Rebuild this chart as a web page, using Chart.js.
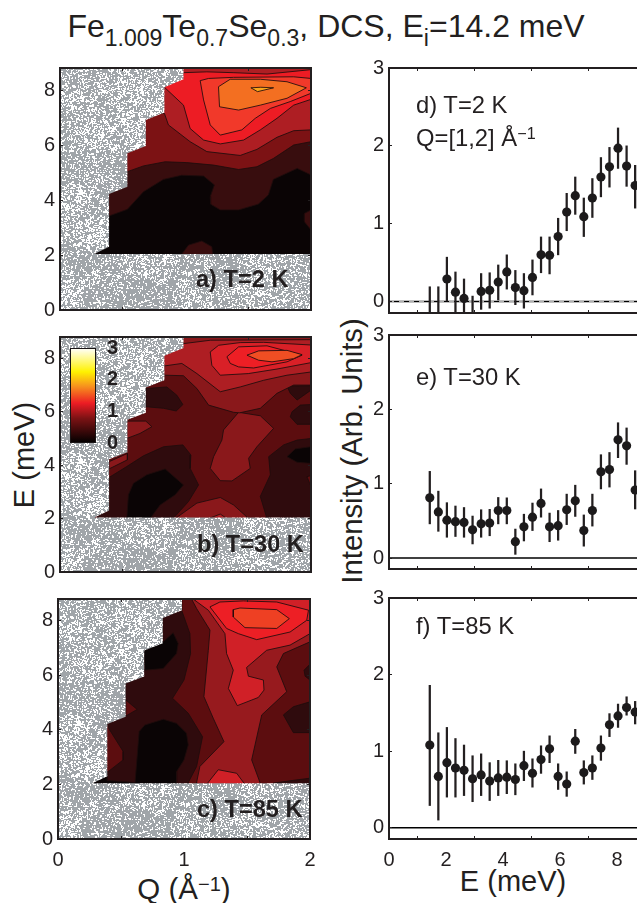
<!DOCTYPE html>
<html>
<head>
<meta charset="utf-8">
<title>Fe1.009Te0.7Se0.3 DCS</title>
<script src="https://cdn.jsdelivr.net/npm/chart.js@4/dist/chart.umd.min.js"></script>
<style>
html, body { margin:0; padding:0; width:637px; height:903px; overflow:hidden; background:#fff; }
body { position:relative; font-family:"Liberation Sans", Arial, sans-serif; color:#231f20; }
canvas { position:absolute; }
.t { position:absolute; white-space:nowrap; transform:translate(-50%,-50%); line-height:1; }
.l { position:absolute; white-space:nowrap; transform:translateY(-50%); line-height:1; }
.rot { transform:translate(-50%,-50%) rotate(-90deg); }
sub { font-size:.72em; vertical-align:baseline; position:relative; top:.4em; }
sup { font-size:.68em; vertical-align:baseline; position:relative; top:-.42em; }
.pb { font-weight:bold; font-size:23.6px; }
.pr { font-size:23.8px; }
</style>
</head>
<body>
<div class="t" style="left:326px;top:26px;font-size:32px">Fe<sub>1.009</sub>Te<sub>0.7</sub>Se<sub>0.3</sub>, DCS, E<sub>i</sub>=14.2 meV</div>
<div class="t rot" style="left:24px;top:455px;font-size:29px">E (meV)</div>
<div class="t rot" style="left:352px;top:451px;font-size:29.3px">Intensity (Arb. Units)</div>
<div class="t" style="left:184px;top:889px;font-size:29.5px">Q (Å<sup>−1</sup>)</div>
<div class="t" style="left:513px;top:881px;font-size:29px">E (meV)</div>

<canvas id="ca"></canvas><canvas id="cb"></canvas><canvas id="cc"></canvas>
<canvas id="cd"></canvas><canvas id="ce"></canvas><canvas id="cf"></canvas>
<canvas id="cbar"></canvas>

<div class="l pb" style="left:196px;top:280px">a) T=2 K</div>
<div class="l pb" style="left:197px;top:545px">b) T=30 K</div>
<div class="l pb" style="left:197px;top:810px">c) T=85 K</div>
<div class="l pr" style="left:416px;top:105px">d) T=2 K</div>
<div class="l pr" style="left:416px;top:138px">Q=[1,2] Å<sup>−1</sup></div>
<div class="l pr" style="left:416px;top:377px">e) T=30 K</div>
<div class="l pr" style="left:416px;top:626px">f) T=85 K</div>

<script>
// energy cuts, right column
const energy = [1.43,1.73,2.03,2.33,2.63,2.93,3.23,3.53,3.83,4.13,4.43,4.73,5.03,5.33,5.63,5.93,6.23,6.53,6.83,7.13,7.43,7.73,8.03,8.33,8.63];
const dMean = [-0.3,-0.3,0.29,0.12,0.04,-0.3,0.13,0.145,0.25,0.38,0.18,0.14,0.31,0.6,0.595,0.835,1.15,1.36,1.09,1.33,1.6,1.73,1.97,1.74,1.49];
const dLow  = [-0.8,-0.8,0,-0.14,-0.2,-0.7,-0.1,-0.085,0.02,0.16,-0.04,-0.085,0.085,0.37,0.355,0.6,0.91,1.12,0.835,1.08,1.345,1.47,1.71,1.48,1.2];
const dHigh = [0.19,0.19,0.57,0.38,0.29,0.07,0.36,0.37,0.47,0.6,0.4,0.36,0.535,0.83,0.83,1.07,1.39,1.6,1.33,1.58,1.85,1.98,2.23,2,1.75];
const eMean = [0.81,0.62,0.51,0.49,0.48,0.38,0.46,0.47,0.64,0.64,0.22,0.42,0.55,0.735,0.42,0.435,0.65,0.77,0.37,0.64,1.16,1.19,1.59,1.51,0.915];
const eLow  = [0.46,0.36,0.28,0.29,0.28,0.19,0.28,0.3,0.46,0.46,0.05,0.23,0.37,0.55,0.22,0.24,0.45,0.56,0.16,0.43,0.93,0.955,1.35,1.26,0.66];
const eHigh = [1.166,0.9,0.745,0.7,0.68,0.565,0.65,0.655,0.815,0.81,0.39,0.59,0.74,0.93,0.605,0.64,0.86,0.98,0.58,0.86,1.39,1.42,1.82,1.75,1.175];
const fMean = [1.08,0.67,0.85,0.78,0.75,0.64,0.69,0.61,0.65,0.66,0.63,0.81,0.71,0.89,1.03,0.67,0.57,1.13,0.72,0.78,1.04,1.345,1.46,1.57,1.51];
const fLow  = [0.29,0.1,0.4,0.4,0.42,0.34,0.42,0.355,0.42,0.445,0.43,0.615,0.53,0.71,0.85,0.5,0.41,0.97,0.57,0.63,0.88,1.19,1.31,1.47,1.355];
const fHigh = [1.86,1.24,1.31,1.165,1.08,0.94,0.965,0.85,0.88,0.875,0.835,1,0.9,1.07,1.2,0.835,0.73,1.285,0.875,0.94,1.2,1.49,1.615,1.71,1.65];

const qTicks = [0,1,2];
const qeTicks = [0,2,4,6,8];
const xTicks = [0,2,4,6,8];
const iTicks = [0,1,2,3];
const barTicks = [0,1,2,3];

// contour outlines as [Q, E]
const fullRect = [[0,0],[2,0],[2,8.8],[0,8.8]];
const noData = [[0,0],[2,0],[2,2.04],[0.274,2.04],[0.391,2.3],[0.391,4.22],[0.537,4.48],[0.537,5.7],[0.684,5.96],[0.684,6.91],[0.832,7.18],[0.832,8.1],[0.984,8.39],[0.984,8.8],[0,8.8]];

const a1 = [[0,3.42],[.391,3.42],[.537,3.66],[.665,4.3],[.824,4.75],[.97,4.9],[1.144,4.87],[1.23,4.55],[1.197,4.12],[1.2,3.85],[1.277,3.64],[1.423,3.64],[1.58,3.85],[1.66,4.18],[1.7,4.75],[1.89,5.15],[2,4.91],[2,8.8],[0,8.8]];
const a1b = [[.965,2],[1.024,2.36],[1.13,2.51],[1.21,2.3],[1.218,2]];
const a1c = [[2,3.64],[1.947,3.51],[1.947,3.21],[2,2.91]];
const a2 = [[0,5.03],[.537,5.03],[.665,5.24],[.838,5.39],[1.01,5.36],[1.223,5.27],[1.423,5.11],[1.569,5.21],[1.7,5.51],[1.862,6],[2,6.12],[2,8.8],[0,8.8]];
const a3 = [[.8,7.15],[.832,7.15],[.864,6.73],[1.037,6.12],[1.17,5.76],[1.436,5.62],[1.569,5.84],[1.729,6.28],[1.862,6.52],[2,6.55],[2,8.8],[.8,8.8]];
const a4 = [[.832,8.1],[.984,7.45],[1.037,6.6],[1.144,6.18],[1.277,6.04],[1.463,6.18],[1.596,6.55],[1.729,6.97],[1.862,7.45],[2,7.66],[2,8.74],[1.65,8.58],[1.38,8.63],[1.17,8.66],[.984,8.63],[.9,8.4]];
const a5 = [[1.117,8.34],[1.144,7.64],[1.197,6.73],[1.277,6.36],[1.449,6.55],[1.556,6.97],[1.676,7.33],[1.835,7.58],[2,7.88],[2,8.42],[1.862,8.48],[1.383,8.46],[1.184,8.42]];
const a6 = [[1.263,8.12],[1.271,7.39],[1.423,7.27],[1.596,7.45],[1.809,7.7],[1.963,8.08],[1.809,8.3],[1.596,8.39],[1.356,8.39]];
const a7 = [[1.521,8.08],[1.574,7.94],[1.702,8.08],[1.6,8.1]];

const bDark1 = [[.3,2],[.3,3.54],[.391,3.54],[.532,3.95],[.665,4.35],[.825,4.69],[.979,4.76],[1.043,4.38],[1.037,3.88],[1.104,3.26],[1.024,2.64],[.91,2.05],[.9,2]];
const bBlack1 = [[.532,2],[.545,2.89],[.585,3.32],[.692,3.64],[.838,3.86],[.984,3.26],[.918,2.89],[.798,2.51],[.718,2]];
const bDark2 = [[.684,6.87],[.851,6.93],[.931,6.62],[.979,6.27],[.926,6.03],[.825,6.13],[.684,6.19]];
const bDark3 = [[1.649,2],[1.596,2.83],[1.676,3.64],[1.663,4.32],[1.782,4.76],[1.889,4.94],[2,5],[2,2]];
const bBlack2 = [[1.809,4.32],[1.875,4.61],[2,4.69],[2,4.07],[1.889,4.11]];
const bIsle = [[1.968,3.57],[2,3.61],[2,3.2]];
const bDark4 = [[1.809,6.96],[2,6.97],[2,6.81],[1.889,6.44],[1.835,6.69]];
const bDark5 = [[1.849,6],[1.915,6.25],[2,6.27],[2,5.53],[1.889,5.53],[1.835,5.81]];
const bMid1 = [[1.423,5.98],[1.596,5.85],[1.702,5.38],[1.569,4.69],[1.503,4.26],[1.516,3.88],[1.37,3.41],[1.277,3.42],[1.197,3.88],[1.224,4.32],[1.29,4.94],[1.303,5.32]];
const bMid2 = [[.918,2],[1.091,2.58],[1.277,2.79],[1.383,2.51],[1.503,2]];
const bMid3 = [[1.184,2],[1.277,2.17],[1.33,2]];
const bMid4 = [[.532,5.65],[.684,5.65],[.732,5.44],[.638,5.19],[.532,5]];
const bMid5 = [[.391,4.13],[.537,4.44],[.537,4.2],[.391,3.86]];
const bUp1 = [[.8,7.37],[.838,7.37],[.984,7.35],[1.091,6.87],[1.184,6.25],[1.383,5.98],[1.431,5.96],[1.596,6.13],[1.729,6.69],[1.862,7],[2,7],[2,8.8],[.8,8.8]];
const bUp2 = [[.8,7.72],[.838,7.72],[.971,7.81],[1.091,7.43],[1.277,6.75],[1.436,6.93],[1.623,7.18],[1.809,7.37],[2,7.49],[2,8.7],[1.2,8.68],[.98,8.55],[.8,8.4]];
const bUp3 = [[1.197,8.24],[1.21,7.74],[1.277,7.37],[1.5,7.43],[1.729,7.6],[2,7.84],[2,8.5],[1.623,8.6],[1.436,8.59],[1.264,8.49]];
const bUp4 = [[1.33,8.06],[1.423,8.43],[1.649,8.47],[1.929,8.12],[1.809,7.87],[1.543,7.64],[1.423,7.68],[1.357,7.81]];
const bUp5 = [[1.49,8.12],[1.583,8.28],[1.809,8.3],[1.929,8.14],[1.862,7.99],[1.689,7.87],[1.583,7.93]];

const cBlack1 = [[.61,2],[.644,3.94],[.689,4.18],[.835,4.39],[.941,4.24],[1.02,3.88],[1.034,3.45],[1,2.9],[.941,2.47],[.941,2]];
const cBlack2 = [[.681,6.92],[.835,7.23],[.914,7.56],[.954,7.17],[.941,6.8],[.835,6.25],[.689,6.19]];
const cBlack3 = [[.2,2],[.39,2.35],[.39,2.15],[.61,2.07],[.61,2]];
const cLeft1 = [[.39,4.18],[.41,4],[.517,3.21],[.517,2.9],[.398,2.47],[.35,2.47],[.35,4.18]];
const cLeft2 = [[.538,5.1],[.628,4.75],[.538,4.51]];
const cBig = [[.981,8.8],[.981,8.39],[1.047,7.53],[1.052,6.8],[1,5.83],[.909,5.16],[1.034,4.61],[1.147,3.75],[1.1,2.66],[1.034,2.07],[1.034,2],[2,2],[2,8.8]];
const cMid = [[1.06,8.8],[1.1,8.45],[1.206,7.66],[1.193,6.92],[1.158,5.22],[1.232,4.43],[1.317,3.57],[1.126,2.66],[1.1,2.07],[1.1,2],[1.603,2],[1.603,2.07],[1.537,2.9],[1.617,4.55],[1.815,5.4],[1.736,6.31],[1.789,6.8],[2,7.23],[2,8.8]];
const cRight1 = [[1.789,4.55],[1.868,4.85],[2,5.03],[2,3.9],[1.868,3.9]];
const cRight2 = [[1.953,6.19],[2,6.41],[2,5.83],[1.961,5.97]];
const cRight3 = [[1.709,2],[1.709,2.05],[1.868,2.15],[2,2.23],[2,2]];
const cHigh = [[1.087,8.75],[1.193,8.39],[1.325,7.53],[1.338,6.8],[1.391,6.19],[1.352,5.52],[1.423,4.89],[1.59,5.19],[1.635,5.46],[1.63,5.83],[1.511,5.97],[1.497,6.29],[1.656,6.92],[1.842,7.11],[2,7.53],[2,8.8],[1.087,8.8]];
const cFoot = [[1.179,2],[1.272,2.54],[1.418,2.41],[1.484,2]];
const cTop1 = [[1.206,8.51],[1.338,7.72],[1.431,7.53],[1.577,7.31],[1.842,7.59],[1.974,8.02],[1.988,8.39],[1.736,8.69],[1.471,8.73],[1.285,8.69]];
const cTop2 = [[1.391,8.41],[1.391,8.14],[1.484,7.75],[1.736,7.72],[1.836,8.08],[1.736,8.41],[1.444,8.47]];

const INK = '#231f20';
const EDGE = 'rgba(30,12,12,0.85)';
const AXW = 40, AXH = 34, PAD = 12;

// speckle texture for the no-data area, denser in patches
function speckle(){
  const c = document.createElement('canvas');
  c.width = c.height = 256;
  const g = c.getContext('2d');
  g.fillStyle = '#a0a5a9';
  g.fillRect(0,0,256,256);
  g.fillStyle = '#ffffff';
  let s = 12345;
  const next = () => {
    s = (s + 0x6D2B79F5) | 0;
    let t = Math.imul(s ^ (s >>> 15), 1 | s);
    t = (t + Math.imul(t ^ (t >>> 7), 61 | t)) ^ t;
    return ((t ^ (t >>> 14)) >>> 0) / 4294967296;
  };
  const cells = [];
  for (let i = 0; i < 64; i++) cells.push(.35 + .65 * next());
  for (let i = 0; i < 24000; i++){
    const x = Math.floor(next()*256), y = Math.floor(next()*256);
    const k = next();
    if (next() > cells[(x >> 5) + 8 * (y >> 5)]) continue;
    g.fillRect(x, y, k < .4 ? 2 : 1, k > .65 ? 2 : 1);
  }
  return g.createPattern(c, 'repeat');
}
const grayFill = speckle();

function poly(points, color, edge){
  const data = points.concat([points[0]]).map(p => ({x:p[0], y:p[1]}));
  return { type:'line', data, backgroundColor:color, borderColor: edge === false ? 'transparent' : EDGE,
    borderWidth: edge === false ? 0 : 1, pointRadius:0, tension:0, fill:'shape' };
}

// no extra room for half labels, the canvas already has it
function fixSize(s, w, h){
  if (w !== null) s.width = w;
  if (h !== null) s.height = h;
  s.paddingLeft = s.paddingRight = s.paddingTop = s.paddingBottom = 0;
}

function axisBase(ticks, extra){
  return Object.assign({
    type:'linear',
    afterBuildTicks: s => { s.ticks = ticks.map(v => ({value:v})); },
    grid:{ drawOnChartArea:false, drawTicks:true, tickLength:-3, tickColor:INK, tickWidth:1, z:1 },
    border:{ display:true, color:INK, width:2, z:2 }
  }, extra);
}

function place(id, L, T, R, B){
  const cv = document.getElementById(id);
  cv.width = R - L + AXW + PAD;
  cv.height = B - T + AXH + PAD;
  cv.style.left = (L - AXW) + 'px';
  cv.style.top = (T - PAD) + 'px';
  return cv;
}

function makeChart(cv, datasets, xMax, yMin, yMax, xT, yT, showX){
  datasets.forEach((d, i) => { d.order = datasets.length - i; });
  const tickFont = { family:'"Liberation Sans"', size:20 };
  new Chart(cv, {
    type:'bar',
    data:{ datasets },
    options:{
      responsive:false, animation:false,
      layout:{ padding:{ top:PAD, right:PAD } },
      plugins:{ legend:{display:false}, tooltip:{enabled:false} },
      scales:{
        x: axisBase(xT, { min:0, max:xMax, position:'bottom', offset:false, afterFit: s => fixSize(s, null, AXH),
          ticks:{ display:showX, color:INK, font:tickFont, padding:12, maxRotation:0, autoSkip:false } }),
        y: axisBase(yT, { min:yMin, max:yMax, position:'left', afterFit: s => fixSize(s, AXW, null),
          ticks:{ color:INK, font:tickFont, padding:8, autoSkip:false } }),
        x2: axisBase(xT, { min:0, max:xMax, position:'top', offset:false, afterFit: s => fixSize(s, null, 0),
          ticks:{ display:false } }),
        y2: axisBase(yT, { min:yMin, max:yMax, position:'right', afterFit: s => fixSize(s, 0, null),
          ticks:{ display:false } })
      }
    }
  });
}

function contourChart(id, box, layers, showX){
  const sets = layers.map(l => poly(l[0], l[1], l[2]));
  sets.push(poly(noData, grayFill, false));
  makeChart(place(id, box[0], box[1], box[2], box[3]), sets, 2, 0, 8.8, qTicks, qeTicks, showX);
}

function cutChart(id, box, mean, low, high, showX, dashed){
  const sets = [
    { type:'line', data:[{x:0,y:0},{x:8.8,y:0}], borderColor:'#000', borderWidth:1.4, pointRadius:0 }
  ];
  if (dashed) sets.push({ type:'line', data:[{x:0,y:0},{x:8.8,y:0}], borderColor:'#b8b8b8', borderWidth:1, borderDash:[5,5], pointRadius:0 });
  sets.push({ type:'bar', data:energy.map((e,i) => ({x:e, y:[low[i], high[i]]})), backgroundColor:INK, barThickness:1.6, borderWidth:0 });
  sets.push({ type:'scatter', data:energy.map((e,i) => ({x:e, y:mean[i]})), backgroundColor:'#1c1a1b', borderWidth:0, pointRadius:4.6 });
  makeChart(place(id, box[0], box[1], box[2], box[3]), sets, 8.8, -0.147, 3, xTicks, iTicks, showX);
}

contourChart('ca', [60,68,311,310], [
  [fullRect,'#0a0405',false],
  [a1,'#380d0e'],[a1b,'#380d0e'],[a1c,'#380d0e'],
  [a2,'#7c1214'],[a3,'#ae1e23'],[a4,'#ed1c24'],[a5,'#f1392a'],[a6,'#f36f21'],[a7,'#faa51a']
], false);

contourChart('cb', [60,337,311,572], [
  [fullRect,'#5c0d0f',false],
  [bDark1,'#2f0b0d'],[bBlack1,'#0a0405'],[bDark2,'#2f0b0d'],[bDark3,'#2f0b0d'],[bBlack2,'#0a0405'],
  [bIsle,'#5c0d0f'],[bDark4,'#2f0b0d'],[bDark5,'#2f0b0d'],
  [bMid1,'#8a181b'],[bMid2,'#8a181b'],[bMid3,'#ae1e23'],[bMid4,'#8a181b'],[bMid5,'#8a181b'],
  [bUp1,'#8a181b'],[bUp2,'#ae1e23'],[bUp3,'#d92027'],[bUp4,'#ed1f25'],[bUp5,'#f04e23']
], false);

contourChart('cc', [58,599,310,839], [
  [fullRect,'#2f0b0d',false],
  [cBlack1,'#0a0405'],[cBlack2,'#0a0405'],[cBlack3,'#0a0405'],[cLeft1,'#5c0d0f'],[cLeft2,'#5c0d0f'],
  [cBig,'#5c0d0f'],[cMid,'#971a1e'],[cRight1,'#2f0b0d'],[cRight2,'#2f0b0d'],[cRight3,'#2f0b0d'],
  [cHigh,'#d02027'],[cFoot,'#d02027'],[cTop1,'#ed1f25'],[cTop2,'#ee4023']
], true);

cutChart('cd', [389,68,640,313], dMean, dLow, dHigh, false, true);
cutChart('ce', [389,335,640,569], eMean, eLow, eHigh, false, false);
cutChart('cf', [389,598,640,839], fMean, fLow, fHigh, true, false);

// colour bar inset in panel b
(function(){
  const cv = document.getElementById('cbar');
  cv.width = 60; cv.height = 119;
  cv.style.left = '69px'; cv.style.top = '336px';
  const ramp = c => {
    const a = c.chart.chartArea;
    if (!a) return '#000';
    const g = c.chart.ctx.createLinearGradient(0, a.bottom, 0, a.top);
    g.addColorStop(0, '#000000');
    g.addColorStop(.26, '#7c1214');
    g.addColorStop(.42, '#ed1c24');
    g.addColorStop(.6, '#f7941d');
    g.addColorStop(.75, '#fff200');
    g.addColorStop(1, '#ffffff');
    return g;
  };
  new Chart(cv, {
    type:'line',
    data:{ datasets:[{ data:[{x:0,y:0},{x:1,y:0},{x:1,y:3},{x:0,y:3},{x:0,y:0}], fill:'shape',
      backgroundColor:ramp, borderColor:'#1a1516', borderWidth:2, pointRadius:0 }] },
    options:{
      responsive:false, animation:false,
      layout:{ padding:{ top:12, bottom:12, left:1 } },
      plugins:{ legend:{display:false}, tooltip:{enabled:false} },
      scales:{
        x:{ type:'linear', display:false, min:0, max:1 },
        y:{ type:'linear', position:'right', min:0, max:3,
          afterBuildTicks: s => { s.ticks = barTicks.map(v => ({value:v})); },
          afterFit: s => fixSize(s, 33, null),
          grid:{ display:false }, border:{ display:false },
          ticks:{ color:INK, font:{ family:'"Liberation Sans"', size:20, weight:'bold' }, padding:3 } }
      }
    }
  });
})();
</script>
</body>
</html>
